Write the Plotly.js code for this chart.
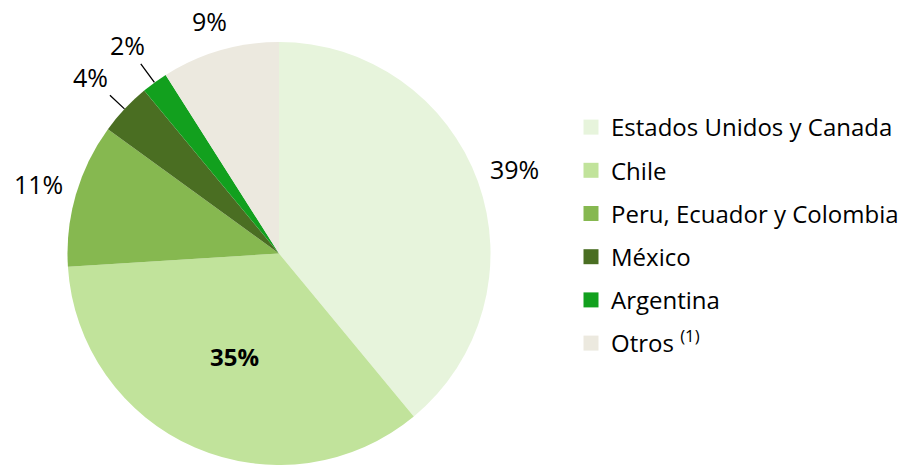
<!DOCTYPE html>
<html><head><meta charset="utf-8">
<script src="https://cdn.plot.ly/plotly-3.0.1.min.js"></script>
<style>html,body{margin:0;padding:0;background:#fff}#chart{width:906px;height:465px}</style>
</head><body><div id="chart"></div>
<script>
const categories = ["Estados Unidos y Canada", "Chile", "Peru, Ecuador y Colombia", "México", "Argentina", "Otros <sup>(1)</sup>"];
const shares = [39, 35, 11, 4, 2, 9];
const colors = ["#E7F4DC", "#C1E39B", "#86B850", "#4A6E22", "#12A01E", "#ECE9DF"];
const insideLabel = [false, true, false, false, false, false];

// pie geometry (layout, pixels)
const W = 906, H = 465;
const CX = 279, CY = 254, R = 212;
const LABEL_R = 250;      // radius at which outside labels are centred
const LABEL_MIN_Y = 21;   // keep labels inside the picture
const SMALL = 5;          // slices under this share get a leader line

const pie = {
  type: "pie",
  labels: categories,
  values: shares,
  sort: false,
  direction: "clockwise",
  rotation: 0,
  marker: {colors: colors, line: {width: 0}},
  texttemplate: "%{value}%",
  textposition: insideLabel.map(b => b ? "inside" : "none"),
  insidetextorientation: "horizontal",
  insidetextfont: {family: "Open Sans", size: 24, color: "#000", weight: "bold"},
  domain: {x: [(CX - R) / W, (CX + R) / W], y: [Math.max(0, 1 - (CY + R) / H), 1 - (CY - R) / H]},
  showlegend: false,
  hoverinfo: "label+percent"
};

// outside labels placed from the data (mid-angle of each slice)
const total = shares.reduce((a, b) => a + b, 0);
const annotations = [];
let cum = 0;
shares.forEach((v, i) => {
  const mid = (cum + v / 2) / total * 2 * Math.PI;
  cum += v;
  if (insideLabel[i]) return;
  const dx = Math.sin(mid), dy = -Math.cos(mid);
  const base = {xref: "paper", yref: "paper", text: v + "%",
    font: {family: "Open Sans", size: 25, color: "#000"}};
  if (v < SMALL) {
    annotations.push(Object.assign(base, {
      x: (CX + R * dx) / W, y: 1 - (CY + R * dy) / H,
      showarrow: true, arrowhead: 0, arrowwidth: 1.3, arrowcolor: "#000", standoff: 0,
      ax: (LABEL_R + 8 - R) * dx, ay: (LABEL_R + 8 - R) * dy
    }));
  } else {
    const py = Math.max(LABEL_MIN_Y, CY + LABEL_R * dy);
    annotations.push(Object.assign(base, {
      x: (CX + LABEL_R * dx) / W, y: 1 - py / H,
      xanchor: "center", yanchor: "middle", showarrow: false
    }));
  }
});

const legendTraces = categories.map((c, i) => ({
  type: "scatter", mode: "markers", x: [null], y: [null], name: c,
  legendgroup: "g" + i,
  marker: {symbol: "square", size: 15, color: colors[i]},
  showlegend: true
}));

const layout = {
  width: W, height: H,
  margin: {l: 0, r: 0, t: 0, b: 0},
  paper_bgcolor: "#fff", plot_bgcolor: "#fff",
  xaxis: {visible: false}, yaxis: {visible: false},
  showlegend: true,
  annotations: annotations,
  legend: {
    x: 571 / W, xanchor: "left", y: 1 - 105 / H, yanchor: "top",
    font: {family: "Open Sans", size: 24, color: "#000"},
    tracegroupgap: 9, itemclick: false
  }
};

Plotly.newPlot("chart", [pie, ...legendTraces], layout, {displayModeBar: false, staticPlot: true});
</script></body></html>
